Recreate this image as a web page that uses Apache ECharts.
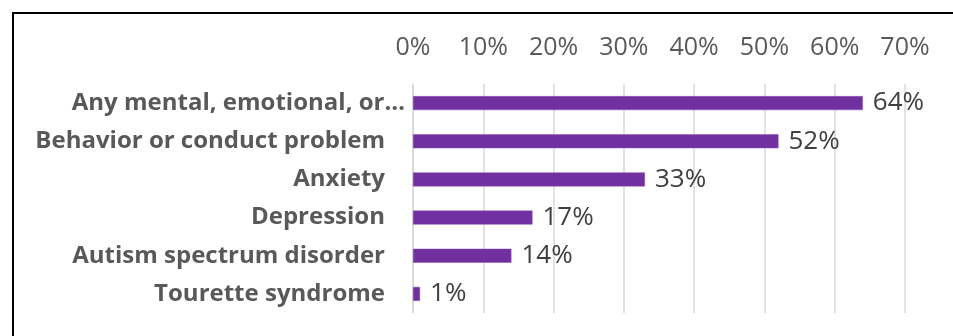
<!DOCTYPE html>
<html>
  <head>
    <meta charset="UTF-8" />
    <title>Conditions chart</title>
    <script src="https://cdn.jsdelivr.net/npm/echarts@6.0.0/dist/echarts.min.js"></script>
    <style>
      html, body { margin: 0; padding: 0; background: #fff; }
    </style>
  </head>
  <body>
    <div id="chart" style="width: 953px; height: 336px"></div>
  </body>
  <script>
// data, top to bottom as shown
let categories = [
  'Any mental, emotional, or\u2026',
  'Behavior or conduct problem',
  'Anxiety',
  'Depression',
  'Autism spectrum disorder',
  'Tourette syndrome'
];
let values = [64, 52, 33, 17, 14, 1];
let tickLabels = ['0%', '10%', '20%', '30%', '40%', '50%', '60%', '70%'];

let myChart = echarts.init(document.getElementById('chart'));

myChart.setOption({
  animation: false,
  grid: { left: 413, right: 48, top: 84, bottom: 23 },
  xAxis: {
    type: 'value',
    position: 'top',
    min: 0,
    max: 70,
    interval: 10,
    axisLine: { show: false },
    axisTick: { show: false },
    splitLine: { lineStyle: { color: '#d9d9d9', width: 1.5 } },
    axisLabel: {
      margin: 24,
      color: '#595959',
      fontFamily: 'Open Sans',
      fontSize: 25,
      formatter: (v) => tickLabels[Math.round(v / 10)]
    }
  },
  yAxis: {
    type: 'category',
    inverse: true,
    data: categories,
    axisLine: { show: true, lineStyle: { color: '#d9d9d9', width: 1.5 } },
    axisTick: { show: false },
    axisLabel: {
      margin: 8,
      formatter: (v, i) => i === 0 ? '{b|' + v + '}' : '{b|' + v + '}{s|}',
      rich: {
        b: { color: '#595959', fontFamily: 'Open Sans', fontWeight: 'bold', fontSize: 24 },
        s: { width: 20 }
      }
    }
  },
  series: [
    {
      type: 'bar',
      data: values,
      barWidth: 14,
      itemStyle: { color: '#7030a0', borderColor: '#8a4fba', borderWidth: 0.5 },
      label: {
        show: true,
        position: 'right',
        distance: 10,
        color: '#404040',
        fontFamily: 'Open Sans',
        fontSize: 26,
        formatter: '{c}%'
      }
    }
  ],
  graphic: [
    {
      type: 'polyline',
      shape: { points: [[13, 400], [13, 13], [1000, 13]] },
      style: { stroke: '#000', lineWidth: 2, fill: null }
    }
  ]
});
  </script>
</html>
